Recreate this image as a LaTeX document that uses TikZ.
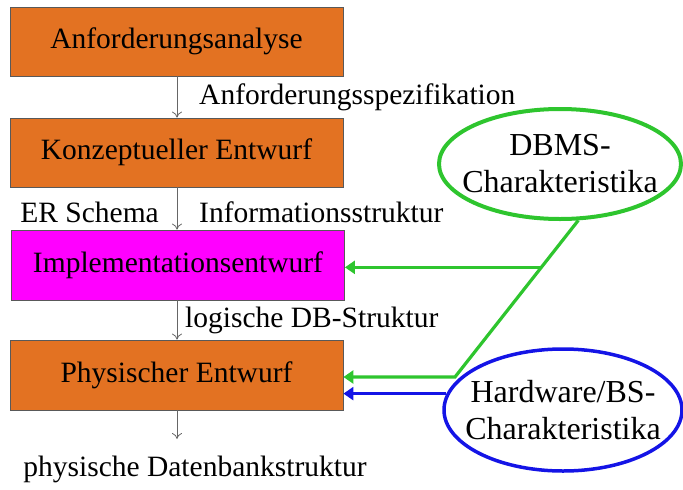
\documentclass[tikz,border=0pt]{standalone}
\usepackage{fontspec}
\setmainfont{Liberation Serif}
\usetikzlibrary{calc, shapes, arrows.meta}

\definecolor{boxorange}{HTML}{E37222}
\definecolor{implmagenta}{HTML}{FF00FF}
\definecolor{dbmsgreen}{HTML}{2EC52E}
\definecolor{hwblue}{HTML}{1414E6}

\newcommand{\zl}[1]{\makebox[0pt]{#1}}

\begin{document}
\begin{tikzpicture}[x=1pt, y=-1pt]
            \pgfmathsetmacro{\bw}{333}
            \pgfmathsetmacro{\bh}{69}
            \pgfmathsetmacro{\mx}{177}
            \tikzstyle{phase}=[draw=black!65, line width=0.8pt, minimum width=\bw pt, minimum height=\bh pt, font=\fontsize{29.5}{33}\selectfont]
            \tikzstyle{flow}=[draw=black!60, line width=0.8pt, -{To[length=6pt, width=10pt]}]
            \tikzstyle{lbl}=[font=\fontsize{29.5}{33}\selectfont, inner sep=0pt]
            \tikzstyle{charak}=[ellipse, align=center, inner sep=0pt, font=\fontsize{32}{37}\selectfont]
            \tikzstyle{feed}=[line width=3.2pt, -{Triangle[length=10pt, width=13pt]}]

            \useasboundingbox (0,0) rectangle (683,490);

            %%%%%%%%%%%%%%%%%%%%%%%%%%%%%%%%%%%%%%%%
            \node at (176.5, 41.5) (analyse) [phase, fill=boxorange] {Anforderungsanalyse};
            \node at (176.5, 152.5) (konzept) [phase, fill=boxorange] {Konzeptueller Entwurf};
            \node at (178, 265) (impl) [phase, fill=implmagenta, minimum height=70pt] {Implementationsentwurf};
            \node at (176.5, 375) (phys) [phase, fill=boxorange, minimum height=70pt] {Physischer Entwurf};
            \coordinate (ende) at (\mx, 439);

            \draw[flow] (\mx, 76) -- (konzept.north -| \mx, 0);
            \draw[flow] (konzept.south -| \mx, 0) -- (impl.north -| \mx, 0);
            \draw[flow] (impl.south -| \mx, 0) -- (phys.north -| \mx, 0);
            \draw[flow] (phys.south -| \mx, 0) -- (ende);

            \node at (199, 97) (spez) [lbl, anchor=west] {Anforderungsspezifikation};
            \node at (159, 212) (er) [lbl, anchor=east] {ER Schema};
            \node at (199, 212) (info) [lbl, anchor=west] {Informationsstruktur};
            \node at (185, 320) (logisch) [lbl, anchor=west] {logische DB-Struktur};
            \node at (195, 469) (physstr) [lbl] {physische Datenbankstruktur};

            %%%%%%%%%%%%%%%%%%%%%%%%%%%%%%%%%%%%%%%%
            \node at (560, 164) (dbms) [charak, draw=dbmsgreen, line width=4pt, minimum width=242pt, minimum height=110pt] {\zl{DBMS-}\\\zl{Charakteristika}};
            \node at (563, 410) (hw) [charak, draw=hwblue, line width=3.5pt, minimum width=238pt, minimum height=122pt] {\zl{Hardware/BS-}\\\zl{Charakteristika}};

            \coordinate (knick) at (455, 377);
            \coordinate (abzweig) at ($(dbms.-72)!0.3!(knick)$);
            \draw[feed, dbmsgreen] (dbms.-72) -- (knick) -- (knick -| phys.east);
            \draw[feed, dbmsgreen] (abzweig) -- (abzweig -| impl.east);
            \draw[feed, hwblue] (hw.172) -- (hw.172 -| phys.east);
\end{tikzpicture}
\end{document}
